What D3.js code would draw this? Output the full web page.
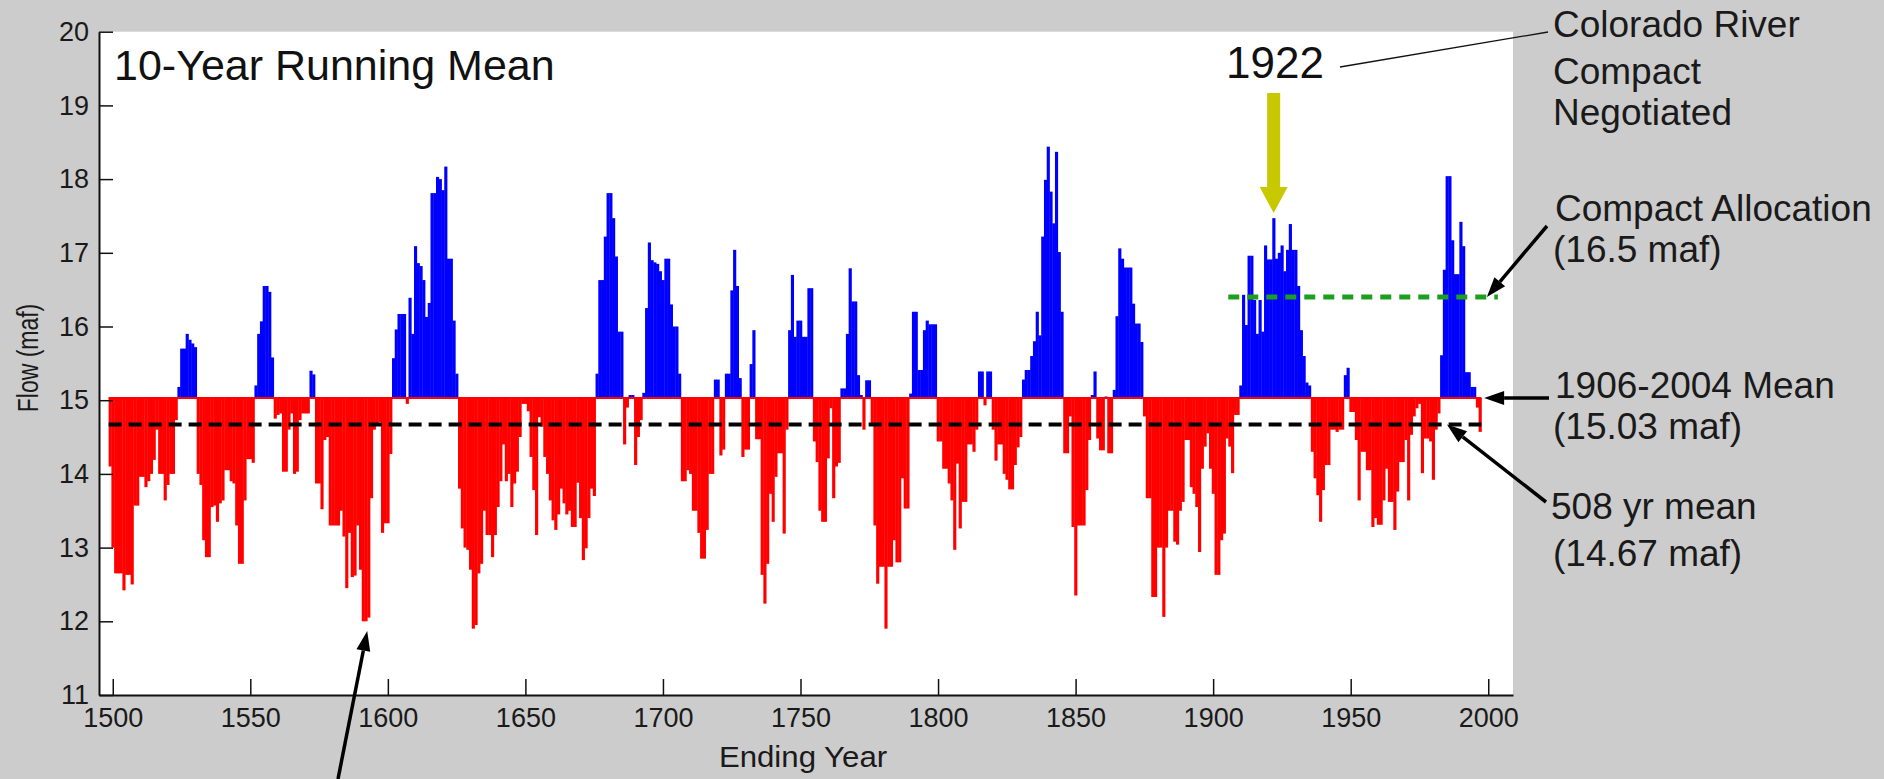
<!DOCTYPE html>
<html>
<head>
<meta charset="utf-8">
<script src="https://d3js.org/d3.v7.min.js"></script>
<style>
body { margin: 0; background: #cccccc; }
svg { display: block; font-family: "Liberation Sans", Arial, sans-serif; }
</style>
</head>
<body>
<div id="chart-area"></div>
<script>
// 10-year running mean of reconstructed flow, by ending year (1499-1997)
var startYear = 1499;
var flow1500s = [14.1,
    13.0, 12.65, 12.65, 12.65, 12.42, 12.63, 12.63, 12.5, 13.57, 13.57,
    13.96, 13.96, 13.82, 13.9, 14.0, 14.19, 14.6, 14.0, 14.0, 13.64,
    13.85, 14.0, 14.0, 14.73, 15.18, 15.7, 15.7, 15.9, 15.82, 15.77,
    15.72, 14.0, 13.85, 13.1, 12.87, 12.87, 13.55, 13.57, 13.35, 13.6,
    13.64, 14.05, 14.05, 13.9, 13.87, 13.3, 12.78, 12.78, 13.64, 14.2,
    14.2, 14.15, 15.2, 15.9, 16.07, 16.55, 16.55, 16.47, 15.58, 14.75,
    14.8, 14.82, 14.03, 14.03, 14.6, 14.82, 14.0, 14.03, 14.73, 14.82,
    14.82, 14.82, 15.4, 15.35, 13.87, 13.87, 13.52, 14.46, 14.5, 13.3,
    13.3, 13.3, 13.3, 13.5, 13.15, 12.45, 13.2, 12.6, 12.62, 13.3,
    12.7, 12.0, 12.0, 12.05, 13.67, 14.6, 14.65, 14.7, 13.2, 13.33];
var flow1600s = [
    13.33, 14.27, 15.57, 15.96, 16.17, 16.17, 16.17, 14.95, 16.39, 15.9,
    17.09, 16.86, 16.82, 16.63, 16.13, 16.32, 17.81, 17.81, 18.03, 18.0,
    17.85, 18.17, 16.92, 16.92, 16.08, 15.36, 13.8, 13.26, 13.0, 12.97,
    12.7, 11.9, 11.95, 12.65, 12.78, 13.5, 13.17, 13.17, 12.87, 13.17,
    13.55, 13.9, 14.4, 13.9, 14.0, 13.55, 13.87, 14.03, 14.5, 14.95,
    14.95, 14.85, 14.23, 13.78, 13.17, 14.77, 14.64, 14.23, 14.0, 13.64,
    13.37, 13.24, 13.45, 13.8, 13.6, 13.45, 13.5, 13.28, 13.28, 13.88,
    13.4, 12.83, 12.99, 13.4, 13.8, 13.7, 15.36, 16.63, 16.63, 17.22,
    17.81, 17.81, 17.47, 16.95, 15.93, 15.93, 14.4, 14.9, 15.07, 15.07,
    14.12, 14.5, 14.73, 15.1, 16.25, 17.14, 16.9, 16.87, 16.85, 16.75];
var flow1700s = [
    16.63, 16.92, 16.92, 16.3, 16.0, 16.0, 15.36, 13.9, 13.9, 14.05,
    14.0, 13.5, 13.5, 13.2, 12.85, 12.85, 13.24, 14.0, 14.0, 15.28,
    15.28, 14.25, 14.33, 15.36, 15.36, 16.49, 17.04, 16.55, 15.3, 14.23,
    14.33, 14.33, 15.49, 15.95, 14.47, 14.47, 12.63, 12.24, 12.78, 13.73,
    13.35, 13.96, 14.28, 14.28, 13.19, 14.6, 15.95, 16.7, 15.86, 16.08,
    16.08, 15.86, 15.86, 16.52, 16.52, 14.44, 14.16, 13.5, 13.35, 13.35,
    14.21, 14.89, 13.67, 14.1, 14.15, 15.16, 15.16, 15.9, 16.79, 16.34,
    16.34, 15.34, 15.07, 14.6, 15.27, 15.27, 14.65, 13.3, 12.51, 12.74,
    12.74, 11.9, 12.74, 12.74, 13.1, 12.8, 12.8, 13.94, 13.53, 13.53,
    15.09, 16.2, 16.2, 15.41, 15.41, 15.95, 16.08, 16.03, 16.03, 16.03];
var flow1800s = [
    14.44, 14.44, 14.07, 14.07, 13.87, 13.64, 12.97, 14.14, 13.26, 13.62,
    13.62, 14.4, 14.4, 14.3, 14.6, 15.39, 15.39, 14.93, 15.39, 15.39,
    14.6, 14.18, 14.4, 14.4, 14.0, 13.92, 13.79, 13.79, 14.12, 14.36,
    14.5, 15.28, 15.41, 15.41, 15.6, 15.8, 16.2, 15.88, 17.22, 17.99,
    18.44, 17.83, 17.4, 18.37, 17.01, 16.2, 14.28, 14.28, 14.78, 13.28,
    12.35, 13.3, 13.3, 13.3, 13.78, 14.46, 15.07, 15.39, 14.48, 14.32,
    14.32, 15.05, 14.28, 14.28, 15.14, 16.14, 17.06, 16.92, 16.8, 16.8,
    16.8, 16.31, 16.04, 16.04, 15.79, 14.78, 13.67, 13.67, 12.33, 12.33,
    13.0, 13.0, 12.06, 13.0, 13.5, 13.5, 13.08, 13.04, 13.5, 13.62,
    14.46, 14.46, 13.82, 13.73, 13.55, 12.94, 14.07, 14.37, 14.55, 14.07];
var flow1900s = [
    13.73, 12.63, 12.63, 13.1, 13.19, 14.48, 14.37, 14.01, 14.8, 14.8,
    15.2, 16.43, 16.02, 16.96, 16.96, 16.36, 15.9, 16.36, 15.93, 17.1,
    16.91, 16.91, 17.47, 16.92, 17.0, 17.1, 16.75, 17.04, 17.39, 17.04,
    17.04, 16.55, 15.95, 15.6, 15.24, 15.2, 14.3, 13.94, 13.71, 13.35,
    13.78, 14.12, 14.12, 14.6, 14.6, 14.57, 14.6, 14.6, 15.34, 15.44,
    14.84, 14.84, 14.46, 13.64, 14.3, 14.3, 14.05, 14.05, 13.28, 13.4,
    13.31, 13.31, 13.64, 14.07, 13.62, 13.62, 13.24, 13.76, 14.16, 14.16,
    14.46, 13.64, 14.53, 14.78, 14.89, 14.95, 14.01, 14.48, 14.48, 14.44,
    13.92, 14.6, 14.82, 15.61, 16.77, 18.04, 18.04, 17.17, 16.71, 16.71,
    17.42, 17.09, 15.38, 15.38, 15.18, 15.18, 14.9, 14.57];

var modernMean = 15.03;     // 1906-2004 mean, bar baseline
var longMean = 14.67;       // 508 yr mean
var compactLevel = 16.4;    // compact allocation line, as drawn
var compactYears = [1905.5, 2003.5];
var markYear = 1922;

var xTicks = [1500, 1550, 1600, 1650, 1700, 1750, 1800, 1850, 1900, 1950, 2000];
var yTicks = [11, 12, 13, 14, 15, 16, 17, 18, 19, 20];

var notes = [
    { text: "Colorado River", x: 1553, y: 37 },
    { text: "Compact", x: 1553, y: 84 },
    { text: "Negotiated", x: 1553, y: 125 },
    { text: "Compact Allocation", x: 1555, y: 221 },
    { text: "(16.5 maf)", x: 1553, y: 262 },
    { text: "1906-2004 Mean", x: 1555, y: 398 },
    { text: "(15.03 maf)", x: 1553, y: 439 },
    { text: "508 yr mean", x: 1551, y: 519 },
    { text: "(14.67 maf)", x: 1553, y: 566 }
];

var flow = flow1500s.concat(flow1600s, flow1700s, flow1800s, flow1900s)
    .map(function(v, i){ return { year: startYear + i, value: v }; });

var W = 1884, H = 779;
var plot = { left: 99, right: 1513, top: 31.7, bottom: 695 };

var svg = d3.select("#chart-area")
    .append("svg")
    .attr("width", W)
    .attr("height", H);

svg.append("rect")
    .attr("width", W).attr("height", H)
    .attr("fill", "#cccccc");

svg.append("rect")
    .attr("x", plot.left).attr("y", plot.top)
    .attr("width", plot.right - plot.left)
    .attr("height", plot.bottom - plot.top)
    .attr("fill", "#ffffff");

var x = d3.scaleLinear()
    .domain([1495, 2009])
    .range([plot.left, plot.right]);

var y = d3.scaleLinear()
    .domain([11, 20])
    .range([plot.bottom, plot.top]);

var bw = x(1) - x(0);

// bars from the 1906-2004 mean
svg.append("g").selectAll("rect")
    .data(flow)
    .enter()
    .append("rect")
        .attr("x", function(d){ return x(d.year - 0.5); })
        .attr("width", bw + 0.4)
        .attr("y", function(d){ return y(Math.max(d.value, modernMean)); })
        .attr("height", function(d){ return Math.abs(y(d.value) - y(modernMean)); })
        .attr("fill", function(d){ return d.value >= modernMean ? "#0000ff" : "#ff0000"; });

var first = flow[0].year - 0.5, last = flow[flow.length - 1].year + 0.5;

svg.append("line")
    .attr("x1", x(first)).attr("x2", x(last))
    .attr("y1", y(modernMean)).attr("y2", y(modernMean))
    .attr("stroke", "#ff0000").attr("stroke-width", 2);

svg.append("line")
    .attr("x1", x(first)).attr("x2", x(last))
    .attr("y1", y(longMean)).attr("y2", y(longMean))
    .attr("stroke", "#000").attr("stroke-width", 4)
    .attr("stroke-dasharray", "13,7");

svg.append("line")
    .attr("x1", x(compactYears[0])).attr("x2", x(compactYears[1]))
    .attr("y1", y(compactLevel)).attr("y2", y(compactLevel))
    .attr("stroke", "#1e9e1e").attr("stroke-width", 5)
    .attr("stroke-dasharray", "11,8");

// axes, ticks pointing inward
var yAxis = svg.append("g")
    .attr("transform", "translate(" + plot.left + ",0)")
    .call(d3.axisLeft(y).tickValues(yTicks).tickSize(-14).tickSizeOuter(0).tickPadding(10));

var xAxis = svg.append("g")
    .attr("transform", "translate(0," + plot.bottom + ")")
    .call(d3.axisBottom(x).tickValues(xTicks).tickSize(-16).tickSizeOuter(0)
        .tickPadding(13).tickFormat(d3.format("d")));

[yAxis, xAxis].forEach(function(a){
    a.select(".domain").attr("stroke", "#111").attr("stroke-width", 2);
    a.selectAll(".tick line").attr("stroke", "#111").attr("stroke-width", 1.5);
    a.selectAll(".tick text")
        .attr("font-size", 27)
        .attr("font-family", "Liberation Sans, Arial, sans-serif")
        .attr("fill", "#1a1a1a");
});

function stretched(str, tx, ty, size, sx, anchor){
    return svg.append("text")
        .attr("transform", "translate(" + tx + "," + ty + ") scale(" + sx + ",1)")
        .attr("font-size", size)
        .attr("text-anchor", anchor || "start")
        .attr("fill", "#1a1a1a")
        .text(str);
}

stretched("Ending Year", 803, 767, 30, 1.04, "middle");

svg.append("text")
    .attr("transform", "translate(38,358) scale(1.3,1) rotate(-90)")
    .attr("font-size", 23)
    .attr("text-anchor", "middle")
    .attr("fill", "#1a1a1a")
    .text("Flow (maf)");

svg.append("text")
    .attr("x", 114).attr("y", 80)
    .attr("font-size", 43)
    .attr("fill", "#111")
    .text("10-Year Running Mean");

svg.append("text")
    .attr("x", 1226).attr("y", 78)
    .attr("font-size", 44)
    .attr("fill", "#111")
    .text(String(markYear));

svg.append("line")
    .attr("x1", 1340).attr("y1", 67).attr("x2", 1548).attr("y2", 32)
    .attr("stroke", "#111").attr("stroke-width", 1.3);

// yellow arrow at 1922
var mx = x(markYear);
svg.append("rect")
    .attr("x", mx - 6.5).attr("y", 93)
    .attr("width", 13).attr("height", 94)
    .attr("fill", "#c8c800");
svg.append("path")
    .attr("d", "M" + (mx - 14) + ",187L" + (mx + 14) + ",187L" + mx + ",213Z")
    .attr("fill", "#c8c800");

notes.forEach(function(n){
    stretched(n.text, n.x, n.y, 37, 1.0);
});

function arrow(x1, y1, x2, y2){
    var a = Math.atan2(y2 - y1, x2 - x1), len = 20, hw = 7;
    var bx = x2 - len * Math.cos(a), by = y2 - len * Math.sin(a);
    svg.append("line")
        .attr("x1", x1).attr("y1", y1).attr("x2", bx).attr("y2", by)
        .attr("stroke", "#000").attr("stroke-width", 3.5);
    svg.append("path")
        .attr("d", "M" + x2 + "," + y2 +
            "L" + (bx - hw * Math.sin(a)) + "," + (by + hw * Math.cos(a)) +
            "L" + (bx + hw * Math.sin(a)) + "," + (by - hw * Math.cos(a)) + "Z")
        .attr("fill", "#000");
}

arrow(1547, 226, x(1999.5), y(compactLevel));
arrow(1549, y(modernMean), x(1998.5), y(modernMean));
arrow(1546, 502, x(1985), y(longMean));
arrow(338, 779, x(1592.5), y(11.87));
</script>
</body>
</html>
